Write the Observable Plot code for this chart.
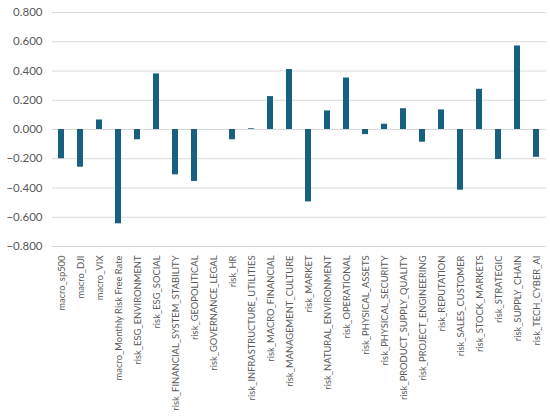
<!DOCTYPE html>
<html>
<head>
<meta charset="utf-8">
<script src="https://cdn.jsdelivr.net/npm/d3@7"></script>
<script src="https://cdn.jsdelivr.net/npm/@observablehq/plot@0.6"></script>
<style>
  html, body { margin: 0; padding: 0; background: #fff; }
  #chart svg { display: block; }
</style>
</head>
<body>
<div id="chart"></div>
<script>
const categories = [
  "macro_sp500", "macro_DJI", "macro_VIX", "macro_Monthly Risk Free Rate",
  "risk_ESG_ENVIRONMENT", "risk_ESG_SOCIAL", "risk_FINANCIAL_SYSTEM_STABILITY",
  "risk_GEOPOLITICAL", "risk_GOVERNANCE_LEGAL", "risk_HR",
  "risk_INFRASTRUCTURE_UTILITIES", "risk_MACRO_FINANCIAL", "risk_MANAGEMENT_CULTURE",
  "risk_MARKET", "risk_NATURAL_ENVIRONMENT", "risk_OPERATIONAL",
  "risk_PHYSICAL_ASSETS", "risk_PHYSICAL_SECURITY", "risk_PRODUCT_SUPPLY_QUALITY",
  "risk_PROJECT_ENGINEERING", "risk_REPUTATION", "risk_SALES_CUSTOMER",
  "risk_STOCK_MARKETS", "risk_STRATEGIC", "risk_SUPPLY_CHAIN", "risk_TECH_CYBER_AI"
];
const values = [
  -0.200, -0.258, 0.065, -0.645,
  -0.070, 0.380, -0.310,
  -0.355, 0.000, -0.070,
  0.005, 0.225, 0.410,
  -0.495, 0.127, 0.352,
  -0.035, 0.036, 0.142,
  -0.087, 0.134, -0.415,
  0.275, -0.205, 0.571, -0.190
];
const yTicks = [-0.8, -0.6, -0.4, -0.2, 0, 0.2, 0.4, 0.6, 0.8];

const data = categories.map((name, i) => ({name, value: values[i]}));
const fmt = d3.format(".3f");

const chart = Plot.plot({
  width: 550,
  height: 418,
  marginLeft: 52,
  marginRight: 4,
  marginTop: 12,
  marginBottom: 172,
  style: {fontFamily: "Lato, 'Open Sans', sans-serif", color: "#595959", background: "#fff"},
  x: {domain: categories, paddingInner: 0.67, paddingOuter: 0.335, label: null},
  y: {domain: [-0.8, 0.8], label: null},
  marks: [
    Plot.gridY(yTicks, {stroke: "#d9d9d9", strokeOpacity: 1, strokeWidth: 1}),
    Plot.barY(data, {x: "name", y: "value", fill: "#17607f"}),
    Plot.axisY(yTicks, {tickSize: 0, tickPadding: 10, tickFormat: fmt, fontSize: 11.5, fill: "#595959"}),
    Plot.axisX({tickSize: 0, tickPadding: 9, tickRotate: -90, fontSize: 9.4, fill: "#595959"})
  ]
});
document.getElementById("chart").appendChild(chart);
</script>
</body>
</html>
